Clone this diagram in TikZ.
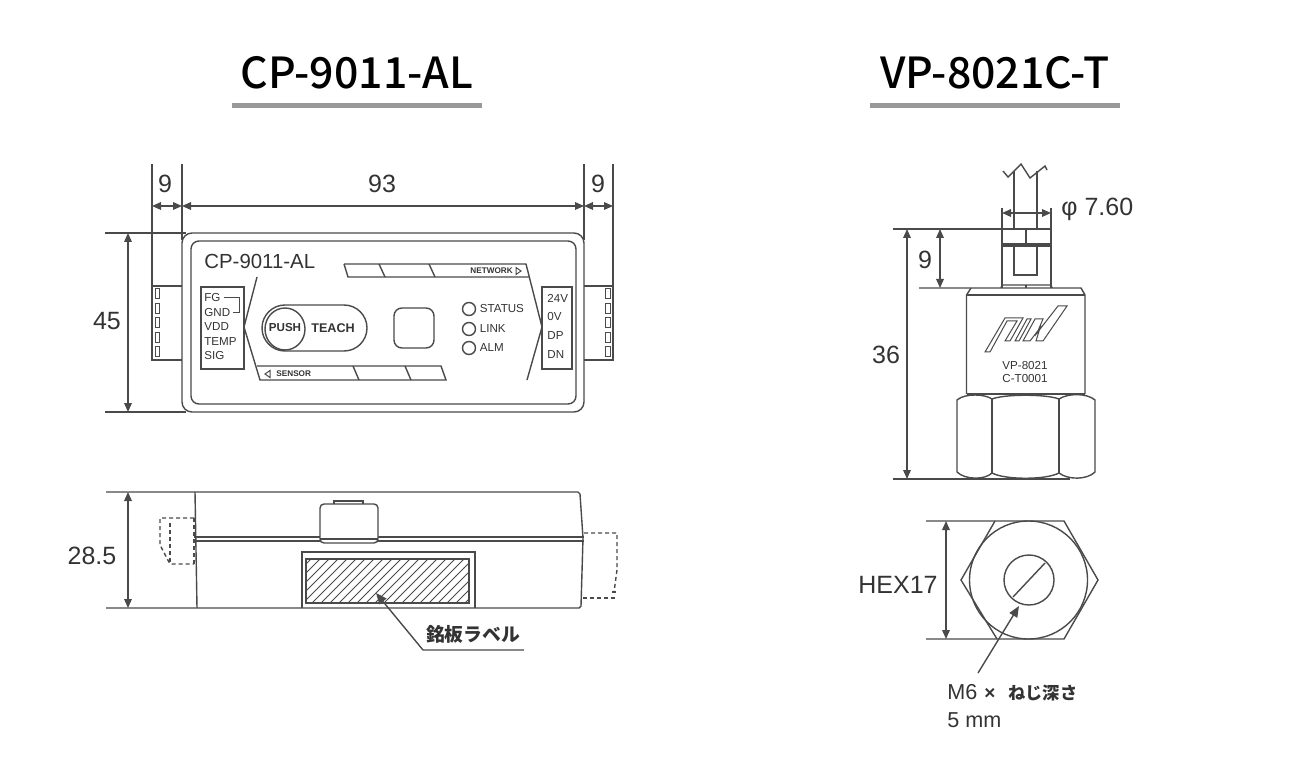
\documentclass[tikz,border=0pt]{standalone}
\usepackage{fontspec}
\setmainfont{Liberation Sans}
\newfontfamily\jpfont{Noto Sans CJK JP}
\newfontfamily\jptitle{Noto Sans CJK JP Medium}
\usetikzlibrary{arrows.meta}
\definecolor{inkline}{HTML}{4A4A4A}
\definecolor{inktext}{HTML}{333333}
\definecolor{rulegray}{HTML}{999999}
\tikzset{
  part/.style={draw=inkline,line width=.7pt},
  thinpart/.style={draw=inkline,line width=.5pt},
  dimline/.style={draw=inkline,line width=.7pt,{Triangle[length=4.5pt,width=3.8pt]}-{Triangle[length=4.5pt,width=3.8pt]}},
  leader/.style={draw=inkline,line width=.7pt,-{Triangle[length=5.5pt,width=4.5pt]}},
  dashpart/.style={draw=inkline,line width=.7pt,dash pattern=on 2pt off 1.5pt},
  titletext/.style={font=\jptitle\fontsize{21.4}{24}\selectfont,text=black,inner sep=0pt},
  dimtext/.style={font=\fontsize{12.5}{14}\selectfont,text=inktext,inner sep=0pt},
  smalltext/.style={font=\fontsize{5.8}{7}\selectfont,text=inktext,inner sep=0pt,anchor=west},
  tinybold/.style={font=\bfseries\fontsize{4.1}{5}\selectfont,text=inktext,inner sep=0pt,anchor=west}
}
\begin{document}
\begin{tikzpicture}[x=.5pt,y=-.5pt]
\useasboundingbox (0,0) rectangle (1300,780);
% titles
\node[titletext] (titleleft) at (357,73) {CP-9011-AL};
\node[titletext] (titleright) at (995,73) {VP-8021C-T};
\draw[rulegray,line width=2.5pt] (232,106) -- (482,106);
\draw[rulegray,line width=2.5pt] (870,106) -- (1120,106);

% front view
\draw[part,rounded corners=5pt] (182,233) rectangle (584,412);
\draw[part,rounded corners=4pt] (191,241) rectangle (576,404);
\draw[part] (152,164) -- (152,360) -- (182,360);
\draw[part] (152,286) -- (182,286);
\draw[part] (182,164) -- (182,240);
\draw[part] (584,164) -- (584,240);
\draw[part] (613,164) -- (613,360) -- (584,360);
\draw[part] (584,286) -- (613,286);
\foreach \py in {289,303.5,318,332.5,347} {
  \draw[thinpart] (155,\py) rectangle (159.5,\py+10);
  \draw[thinpart] (605.5,\py) rectangle (610,\py+10);
}
\draw[part] (105,233) -- (186,233);
\draw[part] (105,412) -- (186,412);
\draw[dimline] (152,206) -- (182,206);
\draw[dimline] (182,206) -- (584,206);
\draw[dimline] (584,206) -- (613,206);
\draw[dimline] (128,233) -- (128,412);
\node[dimtext] (dimnineleft) at (165,184) {9};
\node[dimtext] (dimninetythree) at (382,184) {93};
\node[dimtext] (dimnineright) at (598,184) {9};
\node[dimtext] (dimfortyfive) at (107,321) {45};

% panel
\node[font=\fontsize{10.2}{12}\selectfont,text=inktext,inner sep=0pt,anchor=west] (modelname) at (204,261) {CP-9011-AL};
\draw[part] (201,287) rectangle (244,369);
\draw[part] (542,287) rectangle (572,369);
\node[smalltext] (fg) at (204,298) {FG};
\node[smalltext] (gnd) at (204,312.5) {GND};
\node[smalltext] (vdd) at (204,327) {VDD};
\node[smalltext] (temp) at (204,341.5) {TEMP};
\node[smalltext] (sig) at (204,356) {SIG};
\draw[thinpart] (224,298) -- (239,298) -- (239,313) -- (233,313);
\node[smalltext] (vtf) at (547,298) {24V};
\node[smalltext] (zerov) at (547,316.5) {0V};
\node[smalltext] (dp) at (547,336) {DP};
\node[smalltext] (dn) at (547,355) {DN};
\draw[part] (257,277) -- (244,327) -- (260,380) -- (446,380) -- (441,366) -- (257,366);
\draw[part] (353,366) -- (359,380);
\draw[part] (405,366) -- (411,380);
\draw[part] (344,264) -- (526,264) -- (542,327) -- (527,380);
\draw[part] (344,264) -- (348,277) -- (529,277);
\draw[part] (379,264) -- (385,277);
\draw[part] (429,264) -- (435,277);
\draw[thinpart] (270,370.5) -- (270,377.5) -- (265,374) -- cycle;
\node[tinybold] (sensor) at (276,374) {SENSOR};
\node[tinybold] (network) at (470,271) {NETWORK};
\draw[thinpart] (516,267.5) -- (516,274.5) -- (521,271) -- cycle;
\draw[part,rounded corners=11.5pt] (262,305) rectangle (367,351);
\draw[part] (285,329) ellipse (20 and 21);
\node[font=\bfseries\fontsize{5.8}{7}\selectfont,text=inktext,inner sep=0pt] (push) at (285,328) {PUSH};
\node[font=\bfseries\fontsize{6.3}{7}\selectfont,text=inktext,inner sep=0pt] (teach) at (333,328) {TEACH};
\draw[part,rounded corners=4pt] (394,308) rectangle (434,348);
\foreach \ly/\lname/\ltext in {309/status/STATUS,329/link/LINK,348/alm/ALM} {
  \draw[part] (469,\ly) circle (6.5);
  \node[smalltext] (\lname) at (479.5,\ly) {\ltext};
}

% side view
\draw[part] (106,492) -- (578,492) -- (580,494) -- (583,538) -- (581,606) -- (579,608) -- (106,608);
\draw[part] (195,492) -- (197,608);
\draw[part] (194,537) -- (584,537);
\draw[part] (194,541) -- (584,541);
\draw[dimline] (128,492) -- (128,608);
\node[dimtext] (dimtwentyeight) at (92,556) {28.5};
\draw[fill=white,part,rounded corners=2pt] (320,543) -- (320,504) -- (378,504) -- (378,543) -- cycle;
\draw[part] (334,504) -- (334,501) -- (363,501) -- (363,504);
\draw[part] (320,539) -- (378,539);
\draw[part] (302,608) -- (302,552) -- (475,552) -- (475,608);
\begin{scope}
  \clip (306,559) rectangle (469,603);
  \foreach \hx in {258,267,...,465}
    \draw[thinpart] (\hx,603) -- ++(44,-44);
\end{scope}
\draw[part] (306,559) rectangle (469,603);
\draw[dashpart] (194,518) -- (160,518) -- (160,545) -- (170,564) -- (194,564);
\draw[dashpart] (170,523) -- (170,564);
\draw[dashpart] (194,518) -- (194,564);
\draw[dashpart] (584,533) -- (617,533) -- (617,570) -- (614,592);
\draw[dashpart] (583,598) -- (617,598);
\draw[dashpart] (612,592) -- (617,592);
\coordinate (labelelbow) at (423,650);
\coordinate (labelend) at (524,650);
\coordinate (labeltip) at (376,593);
\draw[leader] (labelend) -- (labelelbow) -- (labeltip);
\node[font=\jpfont\bfseries\fontsize{9.4}{11}\selectfont,text=inktext,inner sep=0pt] (platename) at (473,634) {銘板ラベル};

% sensor side
\draw[part] (1014,171) -- (1014,229);
\draw[part] (1037,171) -- (1037,229);
\draw[part] (1003,171) -- (1008,177) -- (1021,164) -- (1030,178) -- (1045,166) -- (1047,170);
\draw[part] (1002,208) -- (1002,288);
\draw[part] (1051,208) -- (1051,288);
\draw[part] (893,229) -- (1051,229);
\draw[part] (1026,229) -- (1026,244);
\draw[part] (1002,244) -- (1051,244);
\draw[part] (1002,246) -- (1051,246);
\draw[part] (1014,246) -- (1014,275) -- (1037,275) -- (1037,246);
\draw[part] (1001,288) -- (1002,285) -- (1051,285) -- (1052,288);
\draw[part] (1026,285) -- (1026,288);
\draw[part] (919,288) -- (1081,288) -- (1085,295) -- (1085,394);
\draw[part] (966.5,394) -- (966.5,295) -- (971,288);
\draw[part] (966.5,295) -- (1085,295);
\draw[dimline] (1002,213) -- (1051,213);
\draw[dimline] (940,229) -- (940,288);
\draw[dimline] (907,229) -- (907,479);
\node[dimtext] (dimninesensor) at (925,260) {9};
\node[dimtext] (dimthirtysix) at (886,355) {36};
\node[dimtext,anchor=west] (dimphi) at (1061,209) {φ 7.60};
% logo
\draw[thinpart] (985,352) -- (1005,318) -- (1023,318) -- (1010,341) -- (1005,341) -- (1017,321) -- (1007,321) -- (990,352) -- cycle;
\draw[thinpart] (1015,341) -- (1027,319) -- (1031,319) -- (1019,341) -- cycle;
\draw[thinpart] (1023,341) -- (1035,319) -- (1043,319) -- (1037,333) -- (1058,306) -- (1067,306) -- (1043,341) -- (1036,341) -- (1040,328) -- (1030,341) -- cycle;
\node[font=\fontsize{5.8}{7}\selectfont,text=inktext,inner sep=0pt] (sensormodel) at (1025,366) {VP-8021};
\node[font=\fontsize{5.8}{7}\selectfont,text=inktext,inner sep=0pt] (sensorserial) at (1025,379) {C-T0001};
% hex nut
\draw[part] (893,479) -- (1070,479);
\draw[part] (967,394) -- (1085,394);
\draw[part] (992,399) -- (992,473);
\draw[part] (1059,399) -- (1059,473);
\draw[part] (992,399) .. controls (1005,394) and (1046,394) .. (1059,399);
\draw[part] (992,473) .. controls (1005,480) and (1046,480) .. (1059,473);
\draw[part] (992,399) .. controls (985,394) and (965,393) .. (957,400) -- (957,472) .. controls (965,480) and (985,480) .. (992,473);
\draw[part] (1059,399) .. controls (1068,393) and (1087,393) .. (1095,400) -- (1095,472) .. controls (1087,480) and (1068,480) .. (1059,473);

% sensor end view
\draw[part] (926,521) -- (1064,521) -- (1098,580) -- (1064,639) -- (926,639);
\draw[part] (995,521) -- (961,580) -- (997,639);
\draw[part] (1028.5,580) circle (59);
\draw[part] (1029,580) circle (25);
\draw[part] (1013,597) -- (1045,563);
\draw[dimline] (946,521) -- (946,639);
\node[dimtext,anchor=west] (dimhex) at (858,585) {HEX17};
\coordinate (threadtail) at (978,673);
\coordinate (threadtip) at (1019,606);
\draw[leader] (threadtail) -- (threadtip);
\node[font=\fontsize{10.8}{13}\selectfont,text=inktext,inner sep=0pt,anchor=west] (threadname) at (947,693) {M6\hspace{3.5pt}{\bfseries\fontsize{9.5}{10}\selectfont ×}\hspace{6.5pt}{\jpfont\bfseries\fontsize{8.6}{10}\selectfont ねじ深さ}};
\node[font=\fontsize{10.8}{13}\selectfont,text=inktext,inner sep=0pt,anchor=west] (threaddepth) at (947,720) {5 mm};
\end{tikzpicture}
\end{document}
